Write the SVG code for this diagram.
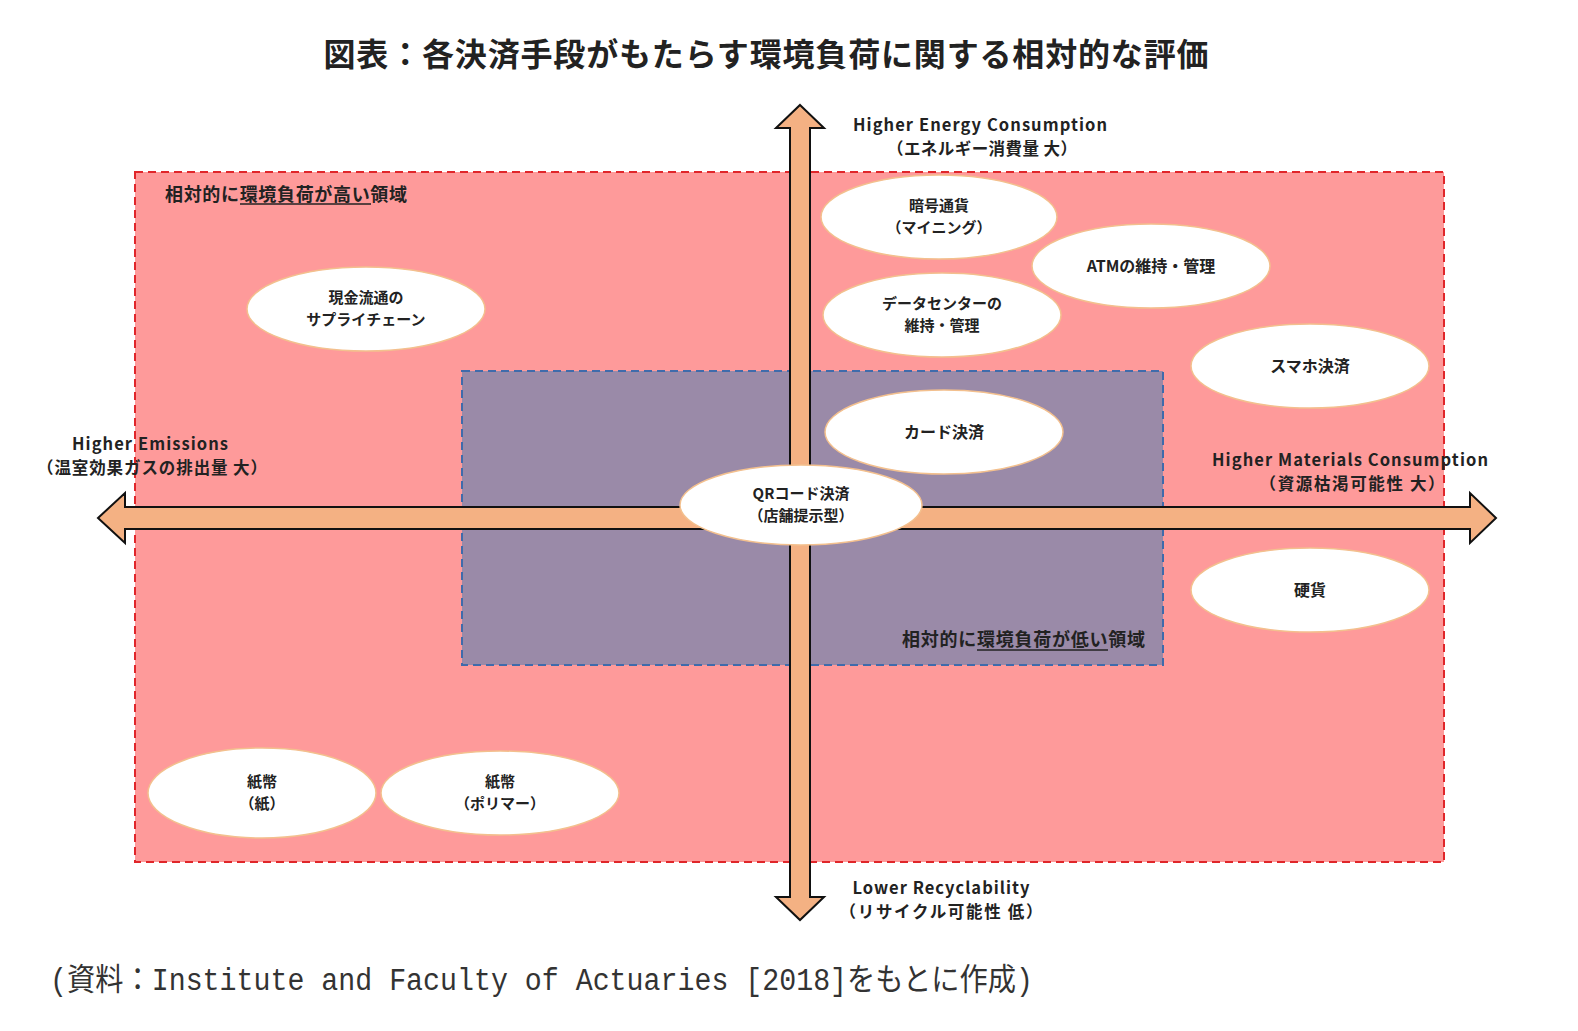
<svg xmlns="http://www.w3.org/2000/svg" width="1578" height="1031" viewBox="0 0 1578 1031">
<style>
  .jp { font-family: "Noto Sans CJK JP", "Noto Sans", sans-serif; font-weight: bold; fill: #222; }
  .node ellipse { fill: #ffffff; stroke: #f3c08e; stroke-width: 1.5; }
  .node text { font-size: 16px; text-anchor: middle; }
  .node text.two { font-size: 15px; }
  .axis text { font-size: 16.5px; text-anchor: middle; }
  .arrow { fill: #f4b183; stroke: #111; stroke-width: 2; stroke-linejoin: miter; }
</style>
<rect width="1578" height="1031" fill="#ffffff"/>

<text class="jp" x="766" y="66" font-size="32" text-anchor="middle" textLength="885" font-weight="900">図表：各決済手段がもたらす環境負荷に関する相対的な評価</text>

<g id="region-high">
  <rect x="135" y="172" width="1309" height="690" fill="#fe9a9a" stroke="#e0262a" stroke-width="2" stroke-dasharray="8,5"/>
  <text class="jp" x="165" y="201" font-size="18" textLength="242">相対的に環境負荷が高い領域</text>
  <line x1="240" y1="204" x2="371" y2="204" stroke="#222" stroke-width="1.5"/>
</g>

<g id="region-low">
  <rect x="462" y="371" width="701" height="294" fill="#9a8aa8" stroke="#3f6bab" stroke-width="2" stroke-dasharray="8,5"/>
  <text class="jp" x="902" y="646" font-size="18" textLength="243">相対的に環境負荷が低い領域</text>
  <line x1="977" y1="650" x2="1108" y2="650" stroke="#222" stroke-width="1.5"/>
</g>

<g id="connectors">
  <polygon class="arrow" points="98,518 125,493 125,507 1470,507 1470,493 1496,518 1470,543 1470,529 125,529 125,543"/>
  <polygon class="arrow" points="800,105 824,128 810,128 810,897 824,897 800,920 776,897 790,897 790,128 776,128"/>
</g>

<g class="axis">
  <g id="axis-top">
    <text class="jp" x="980" y="131" textLength="254">Higher Energy Consumption</text>
    <text class="jp" x="982" y="155" textLength="190">（エネルギー消費量 大）</text>
  </g>
  <g id="axis-left">
    <text class="jp" x="150" y="450" textLength="156">Higher Emissions</text>
    <text class="jp" x="152" y="474" textLength="230">（温室効果ガスの排出量 大）</text>
  </g>
  <g id="axis-right">
    <text class="jp" x="1350" y="466" textLength="276">Higher Materials Consumption</text>
    <text class="jp" x="1352" y="490" textLength="185">（資源枯渇可能性 大）</text>
  </g>
  <g id="axis-bottom">
    <text class="jp" x="941" y="894" textLength="177">Lower Recyclability</text>
    <text class="jp" x="941" y="918" textLength="203">（リサイクル可能性 低）</text>
  </g>
</g>

<g id="n-cash-supply" class="node">
  <ellipse cx="366" cy="309" rx="119" ry="42"/>
  <text class="jp two" x="366" y="303">現金流通の<tspan x="366" dy="22">サプライチェーン</tspan></text>
</g>
<g id="n-crypto" class="node">
  <ellipse cx="939" cy="217" rx="118" ry="42"/>
  <text class="jp two" x="939" y="211">暗号通貨<tspan x="939" dy="22">（マイニング）</tspan></text>
</g>
<g id="n-atm" class="node">
  <ellipse cx="1151" cy="266" rx="119" ry="42"/>
  <text class="jp" x="1151" y="272">ATMの維持・管理</text>
</g>
<g id="n-datacenter" class="node">
  <ellipse cx="942" cy="315" rx="119" ry="42"/>
  <text class="jp two" x="942" y="309">データセンターの<tspan x="942" dy="22">維持・管理</tspan></text>
</g>
<g id="n-smartphone" class="node">
  <ellipse cx="1310" cy="366" rx="119" ry="42"/>
  <text class="jp" x="1310" y="372">スマホ決済</text>
</g>
<g id="n-card" class="node">
  <ellipse cx="944" cy="432" rx="119" ry="42"/>
  <text class="jp" x="944" y="438">カード決済</text>
</g>
<g id="n-qr" class="node">
  <ellipse cx="801" cy="505" rx="121" ry="40"/>
  <text class="jp two" x="801" y="499">QRコード決済<tspan x="801" dy="22">（店舗提示型）</tspan></text>
</g>
<g id="n-coin" class="node">
  <ellipse cx="1310" cy="590" rx="119" ry="42"/>
  <text class="jp" x="1310" y="596">硬貨</text>
</g>
<g id="n-paper" class="node">
  <ellipse cx="262" cy="793" rx="114" ry="45"/>
  <text class="jp two" x="262" y="787">紙幣<tspan x="262" dy="22">（紙）</tspan></text>
</g>
<g id="n-polymer" class="node">
  <ellipse cx="500" cy="793" rx="119" ry="42"/>
  <text class="jp two" x="500" y="787">紙幣<tspan x="500" dy="22">（ポリマー）</tspan></text>
</g>

<text x="50" y="990" font-family="'Liberation Mono', 'Noto Sans CJK JP', monospace" font-size="31" fill="#333" textLength="983" lengthAdjust="spacingAndGlyphs">(資料：Institute and Faculty of Actuaries [2018]をもとに作成)</text>
</svg>
